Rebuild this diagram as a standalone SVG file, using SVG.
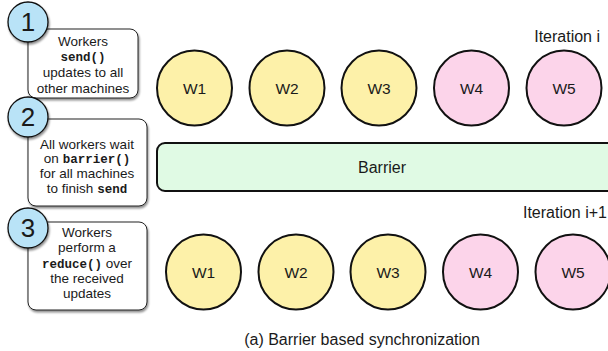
<svg xmlns="http://www.w3.org/2000/svg" width="608" height="351" viewBox="0 0 608 351">
<defs>
<filter id="sh" x="-20%" y="-20%" width="150%" height="150%">
<feGaussianBlur in="SourceAlpha" stdDeviation="1"/>
<feOffset dx="1" dy="1.5" result="b"/>
<feComponentTransfer><feFuncA type="linear" slope="0.45"/></feComponentTransfer>
<feMerge><feMergeNode/><feMergeNode in="SourceGraphic"/></feMerge>
</filter>
</defs>
<style>
text{font-family:"Liberation Sans",Arial,sans-serif;fill:#1a1a1a}
.note{fill:#fff;stroke:#222;stroke-width:1;filter:url(#sh)}
.num{fill:#b9e3f7;stroke:#111;stroke-width:1.3;filter:url(#sh)}
.numt{font-size:26px;text-anchor:middle}
.nt{font-size:13.5px;text-anchor:middle}
.mono{font-family:"Liberation Mono","Courier New",monospace;font-weight:bold;font-size:12.5px}
.y{fill:#fdf1a9;stroke:#111;stroke-width:2}
.p{fill:#fcd4ea;stroke:#111;stroke-width:2}
.wt{font-size:15.5px;text-anchor:middle}
.lab{font-size:16px}
</style>
<rect width="608" height="351" fill="#fff"/>

<g id="step1">
<rect class="note" x="28" y="29" width="110" height="69" rx="8"/>
<circle class="num" cx="28" cy="22" r="20"/>
<text class="numt" x="28" y="31">1</text>
<text class="nt" x="83" y="46">Workers</text>
<text class="nt mono" x="83" y="61">send()</text>
<text class="nt" x="83" y="77">updates to all</text>
<text class="nt" x="83" y="93">other machines</text>
</g>

<g id="step2">
<rect class="note" x="28" y="119" width="119" height="87" rx="8"/>
<circle class="num" cx="28" cy="117" r="20"/>
<text class="numt" x="28" y="126">2</text>
<text class="nt" x="87" y="148.5">All workers wait</text>
<text class="nt" x="87" y="163.2">on <tspan class="mono">barrier()</tspan></text>
<text class="nt" x="87" y="177.9">for all machines</text>
<text class="nt" x="87" y="192.6">to finish <tspan class="mono">send</tspan></text>
</g>

<g id="step3">
<rect class="note" x="28" y="222" width="119" height="88" rx="8"/>
<circle class="num" cx="28" cy="228" r="20"/>
<text class="numt" x="28" y="237">3</text>
<text class="nt" x="87" y="237">Workers</text>
<text class="nt" x="87" y="252">perform a</text>
<text class="nt" x="87" y="267.5"><tspan class="mono">reduce()</tspan> over</text>
<text class="nt" x="87" y="283">the received</text>
<text class="nt" x="87" y="298">updates</text>
</g>

<text class="lab" x="600" y="42" text-anchor="end">Iteration i</text>
<text class="lab" x="607" y="218" text-anchor="end">Iteration i+1</text>

<g id="top-w1"><circle class="y" cx="194.5" cy="88" r="37.5"/><text class="wt" x="194.5" y="93.5">W1</text></g>
<g id="top-w2"><circle class="y" cx="287" cy="88" r="37.5"/><text class="wt" x="287" y="93.5">W2</text></g>
<g id="top-w3"><circle class="y" cx="379" cy="88" r="37.5"/><text class="wt" x="379" y="93.5">W3</text></g>
<g id="top-w4"><circle class="p" cx="471.5" cy="88" r="37.5"/><text class="wt" x="471.5" y="93.5">W4</text></g>
<g id="top-w5"><circle class="p" cx="564" cy="88" r="37.5"/><text class="wt" x="564" y="93.5">W5</text></g>

<g id="barrier">
<rect x="157" y="143" width="460" height="48" rx="8" fill="#e0fae4" stroke="#111" stroke-width="2"/>
<text class="lab" x="382" y="172.5" text-anchor="middle">Barrier</text>
</g>

<g id="bot-w1"><circle class="y" cx="203.5" cy="272" r="37.5"/><text class="wt" x="203.5" y="277.5">W1</text></g>
<g id="bot-w2"><circle class="y" cx="296" cy="272" r="37.5"/><text class="wt" x="296" y="277.5">W2</text></g>
<g id="bot-w3"><circle class="y" cx="388" cy="272" r="37.5"/><text class="wt" x="388" y="277.5">W3</text></g>
<g id="bot-w4"><circle class="p" cx="480.5" cy="272" r="37.5"/><text class="wt" x="480.5" y="277.5">W4</text></g>
<g id="bot-w5"><circle class="p" cx="573" cy="272" r="37.5"/><text class="wt" x="573" y="277.5">W5</text></g>

<g id="connectors"/>

<text class="lab" x="362" y="345" text-anchor="middle">(a) Barrier based synchronization</text>
</svg>
